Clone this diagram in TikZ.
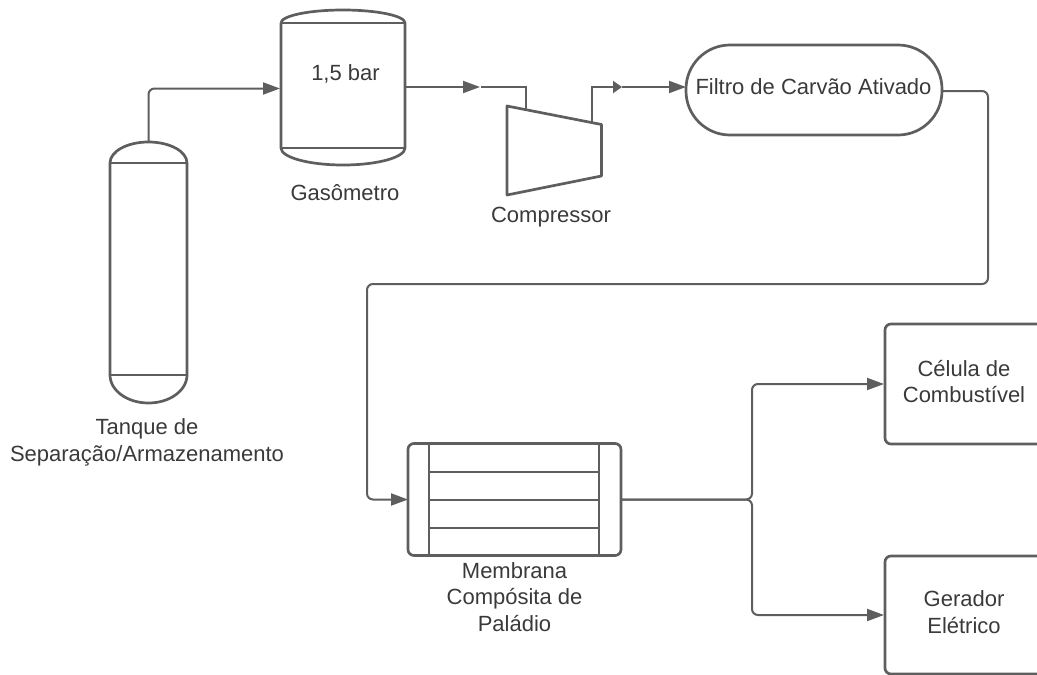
\documentclass[tikz,border=0pt]{standalone}
\usepackage{fontspec}
\setmainfont{Liberation Sans}
\usetikzlibrary{arrows.meta,calc}
\definecolor{ln}{HTML}{5E5E5E}
\definecolor{tx}{HTML}{3A3A3A}
\tikzset{
  shp/.style={draw=ln,line width=2.7pt,line join=round},
  box/.style={inner sep=0pt,outer sep=0pt},
  conn/.style={draw=ln,line width=2pt,rounded corners=6pt},
  arr/.style={conn,-{Triangle[length=17pt,width=12pt]}},
  smallarr/.style={conn,-{Triangle[length=9pt,width=12pt]}},
  lbl/.style={text=tx,font=\fontsize{22}{26.5}\selectfont,align=center,inner sep=0pt},
}
\begin{document}
\begin{tikzpicture}[x=1pt,y=-1pt]
\useasboundingbox (0,0) rectangle (1037,675);
\clip (0,0) rectangle (1037,675);
% tank
\node[box,minimum width=77pt,minimum height=212pt] (tank) at (148.5,269) {};
\draw[shp] (tank.north west) -- (tank.south west) arc[start angle=180,end angle=360,x radius=38.5pt,y radius=28pt] -- (tank.north east) arc[start angle=0,end angle=180,x radius=38.5pt,y radius=21pt];
\draw[shp] (tank.north west) -- (tank.north east);
\draw[shp] (tank.south west) -- (tank.south east);
\coordinate (tanktop) at (148.5,142);
% gasometer
\node[box,minimum width=124pt,minimum height=125pt] (gas) at (343,85.5) {};
\draw[shp] (gas.north west) -- (gas.south west) arc[start angle=180,end angle=360,x radius=62pt,y radius=17pt] -- (gas.north east) arc[start angle=0,end angle=180,x radius=62pt,y radius=13pt];
\draw[shp] (gas.north west) -- (gas.north east);
\draw[shp] (gas.south west) -- (gas.south east);
\node[lbl] (gastxt) at (345.5,74) {1,5 bar};
\node[lbl] (gaslbl) at (345,193) {Gasômetro};
% compressor
\coordinate (c1) at (507,106);
\coordinate (c2) at (601.5,124.5);
\coordinate (c3) at (601.5,176);
\coordinate (c4) at (507,195);
\draw[shp] (c1) -- (c2) -- (c3) -- (c4) -- cycle;
\coordinate (cin) at (526,110);
\coordinate (cout) at (592,122);
\node[lbl] (complbl) at (551,217.5) {Compressor};
% filter
\node[box,draw=ln,line width=2.7pt,rounded corners=44pt,minimum width=256pt,minimum height=90pt] (filt) at (814,90) {};
\node[lbl] (filttxt) at (813.5,87) {Filtro de Carvão Ativado};
% membrane
\node[box,draw=ln,line width=2.7pt,rounded corners=6pt,minimum width=213pt,minimum height=112pt] (mem) at (514.5,499.5) {};
\coordinate (mA) at (429,443.5);
\coordinate (mB) at (429,555.5);
\coordinate (mC) at (599,443.5);
\coordinate (mD) at (599,555.5);
\draw[shp] (mA) -- (mB);
\draw[shp] (mC) -- (mD);
\draw[shp] (429,472) -- (599,472);
\draw[shp] (429,500) -- (599,500);
\draw[shp] (429,528) -- (599,528);
\node[lbl] (memlbl) at (514.5,597) {Membrana\\Compósita de\\Paládio};
% outputs
\draw[shp,rounded corners=6pt] (1060,324) -- (885,324) -- (885,444) -- (1060,444);
\draw[shp,rounded corners=6pt] (1060,556) -- (885,556) -- (885,674) -- (1060,674);
\coordinate (cel) at (884,384);
\coordinate (ger) at (884,615);
\node[lbl] (celtxt) at (964,381.5) {Célula de\\Combustível};
\node[lbl] (gertxt) at (964,612) {Gerador\\Elétrico};
\node[lbl] (tanklbl) at (147,442.5) {Tanque de\\Separação/Armazenamento};
% connectors
\draw[arr] (tanktop) |- ($(gas.west)+(-1,3)$);
\coordinate (j1) at (480,87);
\draw[arr] (gas.east |- j1) -- (j1);
\draw[draw=ln,line width=2.7pt] (481,87) -| (cin);
\coordinate (j2) at (622,87);
\draw[draw=ln,line width=2.7pt] (cout) |- (615,87);
\draw[smallarr] (610,87) -- (j2);
\draw[arr] (j2) -- (filt.west |- j2);
\draw[arr] (filt.east |- 0,91) -- (988,91) -- (988,284) -- (367,284) -- (367,499.5) -- (mem.west);
\draw[arr] (mem.east) -- (752,499.5) -- (752,384) -- (cel);
\draw[arr] (mem.east) -- (752,499.5) -- (752,615) -- (ger);
\end{tikzpicture}
\end{document}
